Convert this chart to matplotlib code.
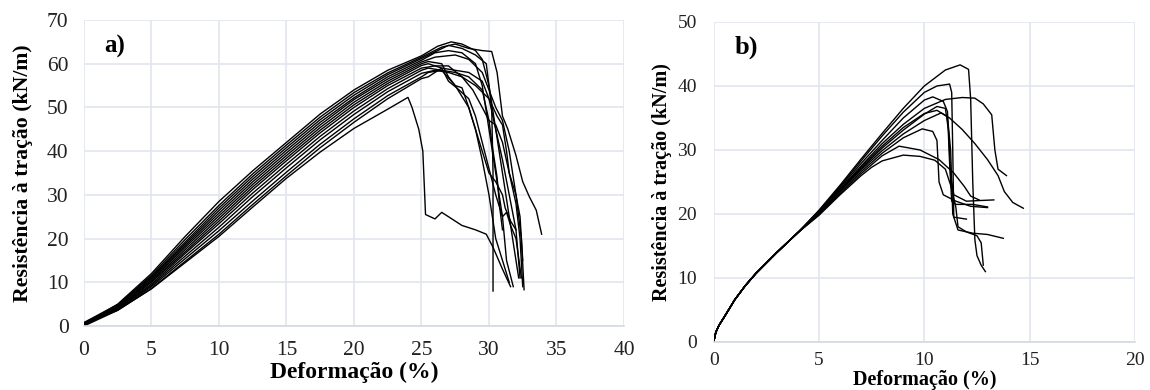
import matplotlib.pyplot as plt

plt.rcParams['font.family'] = ['Liberation Serif', 'DejaVu Serif']

# ---- panel a) : tensile curves, x = strain (%), y = strength (kN/m) ----
rise_x = [0, 2.5, 5, 7.5, 10, 12.5, 15, 17.5, 20, 22.5, 25]

a_curves = [
    # (rise y values at rise_x, post-peak x, post-peak y)
    ([0.5, 5.0, 12.0, 20.5, 28.5, 35.5, 42.0, 48.5, 54.0, 58.5, 61.8],
     [26.2, 27.2, 28.0, 29.0, 29.5, 30.0, 30.5, 31.0, 31.5, 32.2],
     [64.0, 65.0, 64.5, 63.0, 61.0, 55.0, 45.0, 35.0, 25.0, 11.0]),
    ([0.3, 4.8, 11.6, 19.8, 27.6, 34.8, 41.4, 47.8, 53.4, 57.9, 61.5],
     [26.5, 27.5, 28.5, 29.5, 30.2, 30.6, 31.0, 31.4, 32.0, 32.5, 33.0, 33.5, 33.9],
     [63.8, 64.5, 63.5, 63.0, 62.8, 58.0, 48.0, 45.0, 39.0, 33.0, 29.5, 26.5, 21.0]),
    ([0.8, 4.9, 11.3, 19.2, 27.0, 34.2, 40.8, 47.2, 52.8, 57.5, 61.2],
     [27.0, 28.0, 29.0, 29.8, 30.2, 30.3, 30.3],
     [64.2, 63.5, 62.0, 60.0, 50.0, 35.0, 8.0]),
    ([0.2, 4.6, 11.0, 18.8, 26.4, 33.6, 40.2, 46.6, 52.2, 57.0, 60.8],
     [26.0, 27.0, 28.0, 29.0, 29.5, 30.0, 30.5, 31.0, 31.3, 31.8],
     [62.5, 63.0, 62.5, 60.0, 55.0, 45.0, 35.0, 25.0, 15.0, 9.0]),
    ([0.6, 4.5, 10.8, 18.4, 25.8, 33.0, 39.6, 46.0, 51.8, 56.5, 60.4],
     [26.0, 27.5, 28.5, 29.5, 30.5, 31.0, 31.5, 32.0, 32.4, 32.6],
     [61.5, 62.0, 61.0, 58.0, 50.0, 47.0, 40.0, 30.0, 20.0, 8.3]),
    ([0.4, 4.4, 10.5, 18.0, 25.2, 32.4, 39.0, 45.4, 51.2, 56.0, 60.0],
     [25.5, 26.5, 27.0, 27.5, 28.0, 28.5, 29.0, 29.5, 30.0, 30.5, 31.0, 31.5],
     [60.5, 60.0, 57.0, 55.0, 54.5, 50.0, 45.0, 38.0, 30.0, 20.0, 15.0, 10.0]),
    ([0.1, 4.2, 10.2, 17.5, 24.6, 31.8, 38.4, 44.8, 50.6, 55.5, 59.6],
     [25.5, 26.5, 27.0, 27.6, 28.5, 29.0, 29.5, 30.0, 30.5, 31.0, 31.3, 31.6, 32.0, 32.4],
     [60.0, 59.0, 56.0, 54.5, 52.0, 48.0, 42.0, 36.0, 30.0, 25.0, 26.0, 23.0, 20.0, 11.0]),
    ([0.7, 4.1, 10.0, 17.0, 24.0, 31.2, 37.8, 44.2, 50.0, 55.0, 59.0],
     [26.0, 27.0, 28.0, 28.8, 29.5, 30.0, 30.5, 31.0, 31.5, 32.0, 32.3, 32.5],
     [59.5, 59.5, 57.0, 54.0, 50.0, 47.0, 46.0, 42.0, 35.0, 28.0, 20.0, 9.0]),
    ([0.3, 4.0, 9.6, 16.6, 23.4, 30.4, 37.0, 43.4, 49.2, 54.3, 58.5],
     [25.5, 26.5, 27.5, 28.5, 29.0, 29.5, 30.0, 30.5, 31.0, 31.2, 31.6, 32.0],
     [59.0, 58.5, 55.0, 50.0, 45.0, 40.0, 35.0, 33.0, 30.0, 27.0, 24.0, 22.0]),
    ([0.5, 3.9, 9.3, 16.0, 22.6, 29.6, 36.2, 42.6, 48.4, 53.6, 57.8],
     [26.0, 27.0, 28.0, 29.0, 30.0, 30.6, 31.0, 31.3, 31.5, 32.0, 32.3, 32.5],
     [58.5, 58.0, 57.0, 55.0, 52.0, 48.0, 46.0, 40.0, 35.0, 30.0, 25.0, 15.0]),
    ([0.2, 3.7, 9.0, 15.4, 21.8, 28.6, 35.2, 41.6, 47.4, 52.7, 57.0],
     [25.5, 26.5, 27.5, 28.5, 29.5, 30.0, 30.3, 30.6, 30.8, 31.0],
     [58.0, 58.5, 58.0, 57.0, 54.0, 47.0, 40.0, 34.0, 27.0, 22.0]),
    ([0.4, 3.6, 8.6, 14.8, 21.0, 27.8, 34.4, 40.8, 46.6, 52.0, 56.6],
     [25.5, 26.5, 27.5, 28.5, 29.5, 30.0, 30.5, 31.0, 31.5, 32.0, 32.3],
     [57.0, 59.0, 58.5, 58.0, 56.0, 52.0, 45.0, 38.0, 30.0, 22.0, 11.0]),
]

# curve that breaks early (~24 %)
a_early_x = [0, 2.5, 5, 7.5, 10, 12.5, 15, 17.5, 20, 22.5, 24.0, 24.3, 24.8,
             25.1, 25.3, 26.0, 26.5, 27.0, 28.0, 29.0, 29.8, 30.3, 31.0, 31.6]
a_early_y = [0, 3.6, 8.5, 14.5, 20.5, 27.2, 33.8, 39.8, 45.2, 49.6, 52.3, 50.0, 45.0,
             40.0, 25.5, 24.5, 26.0, 25.0, 23.0, 22.0, 21.0, 18.0, 13.0, 9.0]

# ---- panel b) ----
b_rise_x = [0, 0.1, 0.25, 0.5, 1, 1.5, 2, 3, 4]
b_rise_y = [0, 1.5, 2.6, 3.9, 6.6, 8.8, 10.7, 14.0, 17.1]

b_curves = [
    ([5, 6, 7, 8, 9, 10, 11, 11.7, 12.1, 12.2, 12.3, 12.4, 12.5, 12.7, 12.9],
     [20.6, 24.5, 28.6, 32.6, 36.5, 40.0, 42.5, 43.3, 42.6, 38.0, 25.0, 16.0, 13.5, 12.0, 11.0]),
    ([5, 6, 7, 8, 9, 10, 10.6, 11.2, 11.3, 11.35, 11.4, 12.0],
     [20.5, 24.3, 28.3, 32.2, 35.9, 39.0, 40.0, 40.3, 39.0, 30.0, 19.5, 19.2]),
    ([5, 6, 7, 8, 9, 10, 10.4, 10.9, 11.1, 11.2, 11.3, 11.5, 12.3, 13.0],
     [20.4, 24.1, 27.9, 31.5, 35.0, 37.8, 38.3, 37.6, 36.0, 28.0, 22.0, 21.5, 21.5, 21.1]),
    ([5, 6, 7, 8, 9, 10, 11, 11.8, 12.4, 12.8, 13.2, 13.35, 13.5, 13.9],
     [20.3, 23.9, 27.5, 31.0, 34.0, 36.5, 37.9, 38.2, 38.1, 37.2, 35.5, 30.0, 27.0, 26.0]),
    ([5, 6, 7, 8, 9, 10, 10.6, 11.2, 11.8, 12.4, 13.0, 13.5, 13.8, 14.2, 14.7],
     [20.2, 23.8, 27.3, 30.6, 33.5, 35.7, 36.2, 35.0, 33.2, 31.0, 28.5, 26.0, 23.5, 21.8, 20.9]),
    ([5, 6, 7, 8, 9, 10, 10.6, 11.0, 11.15, 11.25, 11.4, 12.0, 12.6, 13.3],
     [20.2, 23.7, 27.1, 30.3, 33.1, 35.6, 36.8, 36.5, 33.0, 26.0, 23.0, 22.0, 22.1, 22.2]),
    ([5, 6, 7, 8, 9, 10, 10.8, 11.1, 11.25, 11.35, 11.6, 12.3, 13.0, 13.75],
     [20.1, 23.6, 26.9, 29.9, 32.5, 34.6, 35.8, 35.2, 30.0, 20.0, 17.5, 17.0, 16.8, 16.2]),
    ([5, 6, 7, 8, 9, 9.9, 10.4, 10.6, 10.7, 10.9, 11.5, 12.2, 13.0],
     [20.0, 23.4, 26.6, 29.5, 31.9, 33.3, 32.9, 31.5, 25.0, 23.0, 22.0, 21.2, 21.0]),
    ([5, 6, 7, 8, 8.8, 9.8, 10.7, 11.4, 11.9, 12.2, 12.6],
     [19.9, 23.2, 26.3, 29.1, 30.6, 30.0, 28.5, 26.4, 24.3, 22.8, 22.2]),
    ([5, 6, 7, 7.5, 8, 9, 9.8, 10.5, 11.0, 11.3, 11.5, 11.6, 12.0, 12.5, 12.7, 12.8],
     [19.8, 23.0, 26.0, 27.3, 28.3, 29.2, 29.0, 28.4, 27.0, 24.0, 21.0, 18.0, 17.2, 16.6, 15.5, 12.0]),
]

grid_c = '#e2e6ee'
axis_c = '#d4d9e2'

fig = plt.figure(figsize=(11.5, 3.9), dpi=100)
ax1 = fig.add_axes([0.0730, 0.1641, 0.4696, 0.7846])
ax2 = fig.add_axes([0.6206, 0.1231, 0.3663, 0.8205])

for ys, px, py in a_curves:
    ax1.plot(rise_x + px, ys + py, color='black', lw=1.0)
ax1.plot(a_early_x, a_early_y, color='black', lw=1.0)

for px, py in b_curves:
    ax2.plot(b_rise_x + px, b_rise_y + py, color='black', lw=1.0)

def style(ax, xmax, xstep, ymax, ystep, fs):
    ax.set_xlim(0, xmax)
    ax.set_ylim(0, ymax)
    ax.set_xticks(range(0, xmax + 1, xstep))
    ax.set_yticks(range(0, ymax + 1, ystep))
    ax.grid(True, color=grid_c, lw=1.2)
    ax.set_axisbelow(True)
    for s in ['top', 'right', 'left']:
        ax.spines[s].set_visible(False)
    ax.spines['bottom'].set_color(axis_c)
    ax.spines['bottom'].set_linewidth(1.2)
    ax.tick_params(length=0, labelsize=fs, colors='#222222')

style(ax1, 40, 5, 70, 10, 15.5)
style(ax2, 20, 5, 50, 10, 14)
ax1.tick_params(axis='x', pad=11)
ax1.tick_params(axis='y', pad=11)
ax2.tick_params(axis='x', pad=7)
ax2.tick_params(axis='y', pad=12)

ax1.set_xlabel('Deformação (%)', fontsize=17, fontweight='bold', labelpad=1)
ax1.set_ylabel('Resistência à tração (kN/m)', fontsize=15.7, fontweight='bold', labelpad=10)
ax2.set_xlabel('Deformação (%)', fontsize=14.5, fontweight='bold', labelpad=1)
ax2.set_ylabel('Resistência à tração (kN/m)', fontsize=14.5, fontweight='bold', labelpad=4)

ax1.text(1.5, 64, 'a)', fontsize=18, fontweight='bold', va='center')
ax2.text(1.0, 46, 'b)', fontsize=19, fontweight='bold', va='center')

fig.savefig('out.png', dpi=100)
